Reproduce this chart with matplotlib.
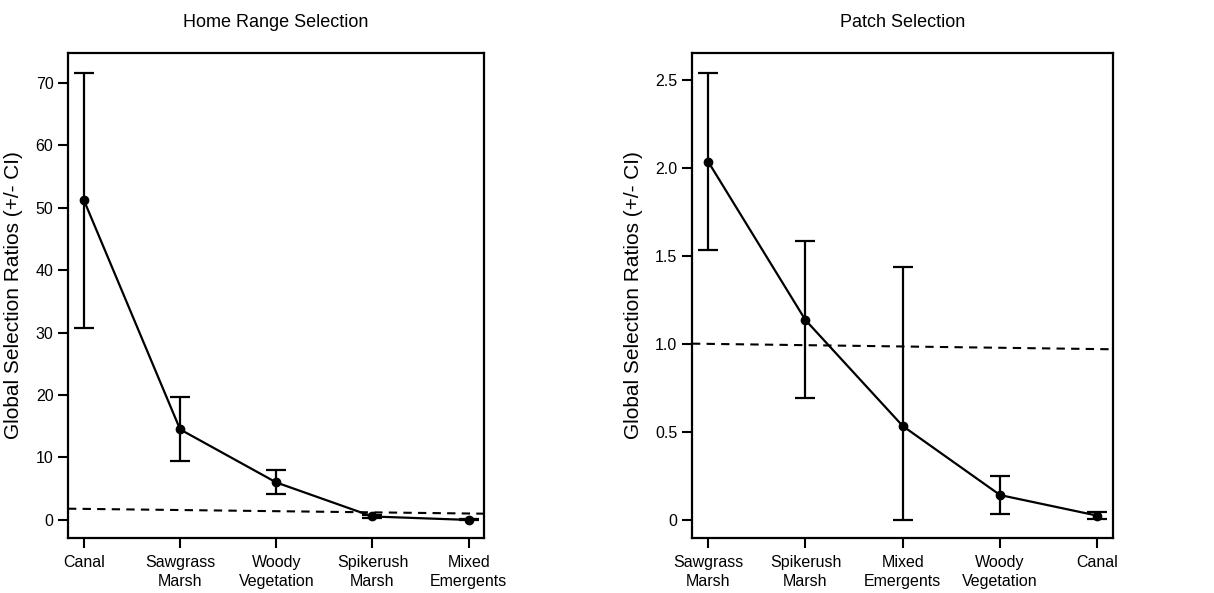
import matplotlib
matplotlib.use("Agg")
import matplotlib.pyplot as plt
import matplotlib.transforms as mtransforms
from matplotlib.ticker import FixedLocator, FixedFormatter

plt.rcParams['font.family'] = ['Liberation Sans', 'DejaVu Sans']

# ---- data: Home Range Selection ----
home_categories = ["Canal", "Sawgrass\nMarsh", "Woody\nVegetation", "Spikerush\nMarsh", "Mixed\nEmergents"]
home_ratio = [51.2, 14.5, 6.0, 0.55, 0.0]
home_upper = [71.6, 19.7, 8.0, 0.85, 0.08]
home_lower = [30.8, 9.4, 4.1, 0.3, -0.08]
home_ref = [1.8, 1.0]          # dashed reference line at left / right edge
home_yticks = [0, 10, 20, 30, 40, 50, 60, 70]
home_ylim = [-2.9, 74.8]

# ---- data: Patch Selection ----
patch_categories = ["Sawgrass\nMarsh", "Spikerush\nMarsh", "Mixed\nEmergents", "Woody\nVegetation", "Canal"]
patch_ratio = [2.036, 1.136, 0.534, 0.142, 0.025]
patch_upper = [2.54, 1.587, 1.44, 0.252, 0.044]
patch_lower = [1.534, 0.691, 0.0, 0.032, 0.008]
patch_ref = [1.002, 0.97]
patch_yticks = [0, 0.5, 1.0, 1.5, 2.0, 2.5]
patch_yticklabels = ["0", "0.5", "1.0", "1.5", "2.0", "2.5"]
patch_ylim = [-0.102, 2.653]

titles = ["Home Range Selection", "Patch Selection"]
ylabel = "Global Selection Ratios (+/- CI)"

fig = plt.figure(figsize=(12.14, 5.93), dpi=100)
ax1 = fig.add_axes([0.056, 0.0927, 0.3427, 0.818])
ax2 = fig.add_axes([0.570, 0.0927, 0.3468, 0.818])


def draw(ax, cats, vals, up, lo, ref, yticks, yticklabels, ylim, title):
    x = list(range(len(cats)))
    yerr = [[v - l for v, l in zip(vals, lo)], [u - v for u, v in zip(up, vals)]]
    ax.errorbar(x, vals, yerr=yerr, color='black', lw=1.6, marker='o', ms=6,
                capsize=7, capthick=1.6, elinewidth=1.6, zorder=3)
    trans = mtransforms.blended_transform_factory(ax.transAxes, ax.transData)
    ax.plot([0, 1], ref, transform=trans, color='black', lw=1.5,
            linestyle=(0, (4, 3)), zorder=2)
    ax.set_xlim(-0.166, len(cats) - 1 + 0.16)
    ax.set_ylim(*ylim)
    ax.xaxis.set_major_locator(FixedLocator(x))
    ax.xaxis.set_major_formatter(FixedFormatter(cats))
    ax.yaxis.set_major_locator(FixedLocator(yticks))
    ax.yaxis.set_major_formatter(FixedFormatter(yticklabels))
    ax.tick_params(axis='both', direction='out', length=7, width=1.5,
                   labelsize=11.5, colors='black')
    ax.tick_params(axis='x', pad=5)
    for lbl in ax.get_xticklabels():
        lbl.set_linespacing(1.35)
    for sp in ax.spines.values():
        sp.set_linewidth(1.6)
    ax.set_title(title, fontsize=13, pad=19)
    ax.set_ylabel(ylabel, fontsize=15, labelpad=9)


draw(ax1, home_categories, home_ratio, home_upper, home_lower, home_ref,
     home_yticks, [str(t) for t in home_yticks], home_ylim, titles[0])
draw(ax2, patch_categories, patch_ratio, patch_upper, patch_lower, patch_ref,
     patch_yticks, patch_yticklabels, patch_ylim, titles[1])

fig.savefig("out.png", dpi=100)
